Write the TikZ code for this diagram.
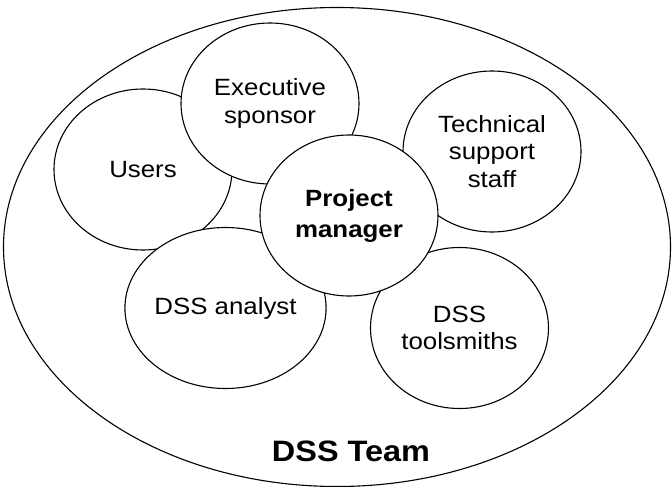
\documentclass[tikz,border=0pt]{standalone}
\usepackage{fontspec}
\setmainfont{Liberation Sans}[FakeStretch=1.1]
\usepackage{tikz}
\usetikzlibrary{shapes.geometric}

\tikzset{
    member/.style={draw, fill=white, ellipse, line width=1.1pt,
        minimum width=178pt, minimum height=161pt, inner sep=0pt,
        align=center, font=\fontsize{23.5}{27.5}\selectfont},
}

\begin{document}
\begin{tikzpicture}[x=1pt,y=-1pt]
        \useasboundingbox (0,0) rectangle (672,487);
        \node[draw, ellipse, line width=1.1pt, minimum width=667pt, minimum height=479pt] (team) at (337,247) {};
        % members, drawn back to front
        \node[member] (users) at (143,169.5) {Users};
        \node[member] (sponsor) at (270,103.5) {Executive\\sponsor};
        \node[member] (techstaff) at (492,151.5) {Technical\\support\\staff};
        \node[member] (analyst) at (225.5,308) {DSS analyst};
        \node[member] (toolsmiths) at (459.5,328) {DSS\\toolsmiths};
        \node[member, font=\bfseries\fontsize{23.5}{31}\selectfont] (manager) at (349,215.5) {Project\\manager};
        \node[anchor=base, font=\bfseries\fontsize{29.5}{34}\selectfont] (teamlabel) at (351,461) {DSS Team};
\end{tikzpicture}
\end{document}
